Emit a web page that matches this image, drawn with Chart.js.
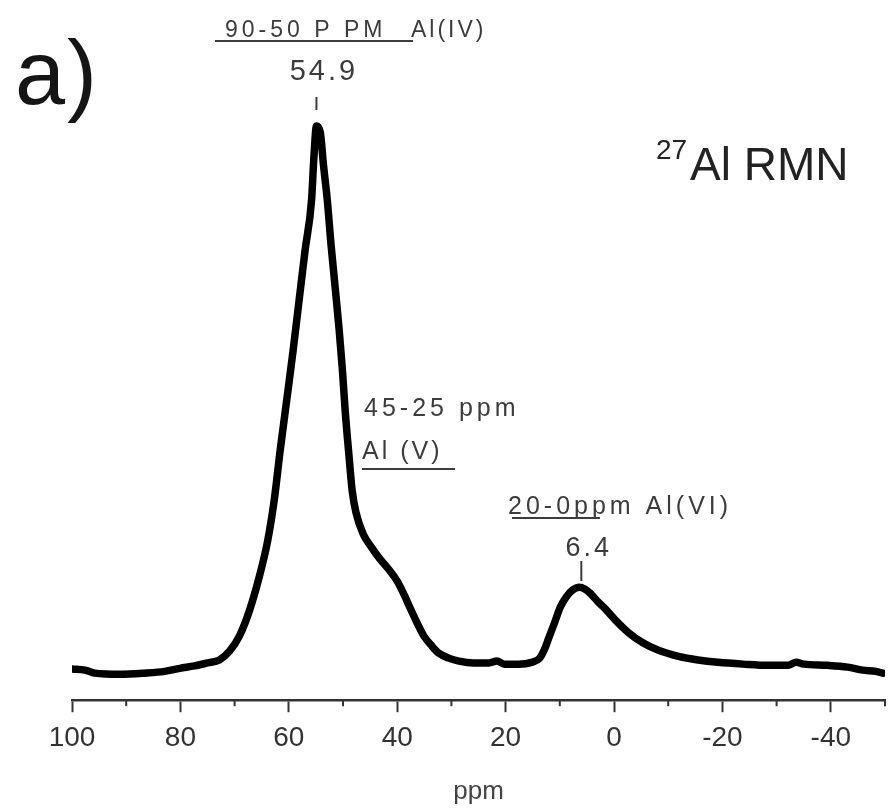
<!DOCTYPE html>
<html>
<head>
<meta charset="utf-8">
<title>27Al RMN</title>
<script src="https://cdn.jsdelivr.net/npm/chart.js@4.4.1/dist/chart.umd.min.js"></script>
<style>
  html, body { margin: 0; padding: 0; background: #fff; }
  #wrap { width: 891px; height: 810px; position: relative; }
</style>
</head>
<body>
<div id="wrap"><canvas id="nmrChart"></canvas></div>
<script>
// Chemical shift (ppm) and relative intensity of the 27Al spectrum
const ppmValues = [
    100, 97.6, 95.8, 91.2, 86.6, 82.9, 80.1, 77.4, 75.0, 72.8,
    70.9, 69.1, 67.3, 65.4, 63.9, 62.7, 61.6, 60.4, 59.2, 58.1,
    57.0, 55.8, 55.4, 54.9, 54.2, 53.6, 52.9, 52.2, 51.4, 50.7,
    50.1, 49.6, 48.9, 48.3, 47.6, 46.3, 44.8, 43.2, 41.5, 40.0,
    38.7, 37.6, 36.3, 35.1, 33.6, 32.3, 30.5, 28.6, 25.9, 23.1,
    21.6, 20.2, 17.6, 15.2, 13.7, 12.8, 12.1, 11.0, 9.9, 8.8,
    7.7, 6.4, 5.4, 4.3, 2.9, 1.4, -0.4, -2.6, -5.4, -8.2,
    -11.9, -15.5, -19.2, -23.8, -28.4, -32.1, -33.6, -35.0, -39.4, -43.1,
    -45.9, -48.3, -49.6
];
const intensityValues = [
    5.2, 5.0, 4.5, 4.3, 4.5, 4.8, 5.3, 5.7, 6.2, 6.7,
    8.2, 10.7, 14.8, 20.7, 26.5, 33.2, 41.5, 49.8, 58.2, 66.5,
    74.8, 83.2, 89.8, 95.5, 94.5, 89.0, 83.2, 75.7, 68.2, 61.5,
    54.8, 48.2, 40.7, 34.8, 31.2, 27.7, 25.5, 23.5, 21.7, 19.8,
    17.5, 15.3, 12.8, 10.7, 9.0, 7.8, 7.0, 6.5, 6.2, 6.2,
    6.5, 6.0, 6.0, 6.3, 7.0, 8.5, 10.2, 12.8, 15.5, 17.2,
    18.3, 18.8, 18.5, 17.7, 16.3, 15.0, 13.2, 11.3, 9.5, 8.3,
    7.3, 6.7, 6.3, 6.0, 5.8, 5.8, 6.3, 6.0, 5.8, 5.5,
    5.0, 4.8, 4.5
];

// Axis ticks
const majorTicks = [100, 80, 60, 40, 20, 0, -20, -40];
const minorTicks = [90, 70, 50, 30, 10, -10, -30, -50];

// Peak markers
const peakPositions = [54.9, 6.4];
const peakLabels = ['54.9', '6.4'];

const inkColor = '#3c3c3c';
const fontFamily = "'Liberation Sans', Arial, sans-serif";

function drawSpaced(ctx, text, x, y, size, spacing, align) {
    ctx.font = size + 'px ' + fontFamily;
    ctx.letterSpacing = spacing + 'px';
    let w = ctx.measureText(text).width - spacing;
    let left = x;
    if (align === 'center') left = x - w / 2;
    ctx.textAlign = 'left';
    ctx.textBaseline = 'alphabetic';
    ctx.fillText(text, left, y);
    ctx.letterSpacing = '0px';
}

function hLine(ctx, x1, x2, y, w) {
    ctx.beginPath();
    ctx.lineWidth = w;
    ctx.moveTo(x1, y);
    ctx.lineTo(x2, y);
    ctx.stroke();
}

function vLine(ctx, x, y1, y2, w) {
    ctx.beginPath();
    ctx.lineWidth = w;
    ctx.moveTo(x, y1);
    ctx.lineTo(x, y2);
    ctx.stroke();
}

// Minor ticks, peak markers and the band labels
const annotationPlugin = {
    id: 'nmrAnnotations',
    afterDraw(chart) {
        const ctx = chart.ctx;
        const xs = chart.scales.x;
        const axisY = chart.chartArea.bottom;
        ctx.save();
        ctx.strokeStyle = '#333';
        ctx.lineCap = 'butt';
        minorTicks.forEach(v => {
            vLine(ctx, xs.getPixelForValue(v), axisY, axisY + 6, 2);
        });

        ctx.fillStyle = inkColor;
        ctx.strokeStyle = inkColor;

        // Al(IV) band
        drawSpaced(ctx, '90-50 P PM', 225, 37, 23, 4, 'left');
        drawSpaced(ctx, 'Al(IV)', 411, 37, 23, 3, 'left');
        hLine(ctx, 215, 413, 41, 2.2);

        // Al(V) band
        drawSpaced(ctx, '45-25 ppm', 364, 416, 25, 4, 'left');
        drawSpaced(ctx, 'Al (V)', 362, 459, 25, 3, 'left');
        hLine(ctx, 362, 455, 469, 2.2);

        // Al(VI) band
        drawSpaced(ctx, '20-0ppm Al(VI)', 508, 514, 25, 4, 'left');
        hLine(ctx, 512, 600, 518, 2.2);

        // peak values with their markers
        const p1 = xs.getPixelForValue(peakPositions[0]);
        drawSpaced(ctx, peakLabels[0], p1 + 6, 80, 29, 3, 'center');
        vLine(ctx, p1, 97, 110, 2);
        const p2 = xs.getPixelForValue(peakPositions[1]);
        drawSpaced(ctx, peakLabels[1], p2 + 8, 556, 27, 3, 'center');
        vLine(ctx, p2 + 2, 561, 581, 2);

        // panel letter and nucleus label
        ctx.fillStyle = '#151515';
        drawSpaced(ctx, 'a)', 15, 104, 90, 2, 'left');
        ctx.fillStyle = '#222';
        drawSpaced(ctx, '27', 656, 159, 28, 0, 'left');
        drawSpaced(ctx, 'Al RMN', 690, 180, 46, 0, 'left');
        ctx.restore();
    }
};

const points = ppmValues.map((p, i) => ({ x: p, y: intensityValues[i] }));

new Chart(document.getElementById('nmrChart'), {
    type: 'line',
    data: {
        datasets: [{
            data: points,
            borderColor: '#000',
            borderWidth: 7.5,
            pointRadius: 0,
            fill: false,
            cubicInterpolationMode: 'monotone',
            borderJoinStyle: 'round',
            borderCapStyle: 'round'
        }]
    },
    options: {
        responsive: true,
        maintainAspectRatio: false,
        animation: false,
        layout: { padding: { left: 72, right: 6, top: 99, bottom: 3 } },
        plugins: {
            legend: { display: false },
            tooltip: { enabled: false }
        },
        scales: {
            x: {
                type: 'linear',
                reverse: true,
                min: -50,
                max: 100,
                afterBuildTicks: scale => {
                    scale.ticks = majorTicks.map(v => ({ value: v }));
                },
                border: { display: true, color: '#333', width: 2.5 },
                grid: {
                    drawOnChartArea: false,
                    drawTicks: true,
                    tickLength: 12,
                    tickWidth: 2,
                    tickColor: '#333'
                },
                ticks: {
                    autoSkip: false,
                    maxRotation: 0,
                    padding: 9,
                    color: '#333',
                    font: { family: fontFamily, size: 28 }
                },
                title: {
                    display: true,
                    text: 'ppm',
                    color: '#444',
                    font: { family: fontFamily, size: 26 },
                    padding: { top: 12, bottom: 0 }
                }
            },
            y: {
                display: false,
                min: 0,
                max: 100
            }
        }
    },
    plugins: [annotationPlugin]
});
</script>
</body>
</html>
